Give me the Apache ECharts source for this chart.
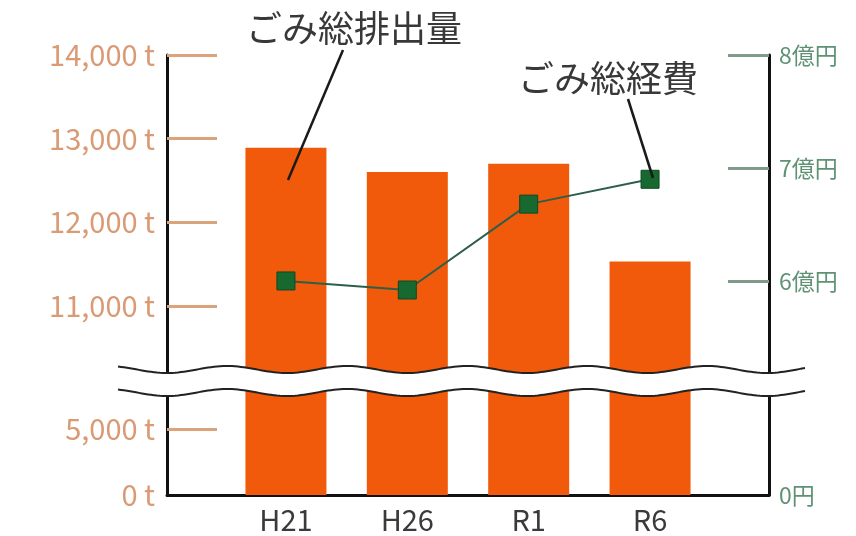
<!DOCTYPE html>
<html>
<head>
<meta charset="utf-8">
<script src="https://cdn.jsdelivr.net/npm/echarts@6/dist/echarts.min.js"></script>
<style>
  html, body { margin: 0; padding: 0; background: #fff; }
  #chart { width: 856px; height: 536px; }
</style>
</head>
<body>
<div id="chart"></div>
<script>
  // 年度
  const categories = ['H21', 'H26', 'R1', 'R6']
  // ごみ総排出量 (t)
  const wasteTotal = [12890, 12600, 12700, 11530]
  // ごみ総経費 (億円)
  const costTotal = [6.0, 5.92, 6.68, 6.9]
  // 目盛り
  const leftTicksUpper = [11000, 12000, 13000, 14000]
  const leftTicksLower = [0, 5000]
  const rightTicksUpper = [6, 7, 8]
  const rightTicksLower = [0]

  const FONT = '"Noto Sans CJK JP", "Noto Sans", sans-serif'
  const BAR_COLOR = '#f05a0a'
  const LINE_COLOR = '#2c5f4a'
  const POINT_COLOR = '#17692f'

  const chart = echarts.init(document.getElementById('chart'))

  const fmtTon = v => v.toLocaleString('en-US') + ' t'

  const leftAxisBase = {
    type: 'value',
    position: 'left',
    splitLine: { show: false },
    axisLine: { show: true, onZero: false, lineStyle: { color: '#111', width: 3 } },
    axisTick: { show: true, inside: true, length: 50, lineStyle: { color: '#d9a47c', width: 3 } },
    axisLabel: { color: '#d99a74', fontSize: 29, fontFamily: FONT, margin: 12, formatter: fmtTon }
  }
  const rightAxisBase = {
    type: 'value',
    position: 'right',
    splitLine: { show: false },
    axisLine: { show: true, onZero: false, lineStyle: { color: '#111', width: 3 } },
    axisTick: { show: true, inside: true, length: 41, lineStyle: { color: '#7f9c8a', width: 3 } },
    axisLabel: { color: '#5f9274', fontSize: 23, fontFamily: FONT, margin: 10 }
  }

  // 波線 (省略記号)
  function wave(c){
    const pts = []
    for(let x = 118; x <= 806; x += 3){
      pts.push([x, c + 3.5 * Math.sin(2 * Math.PI * (x - 137) / 120)])
    }
    return pts
  }
  const waveTop = wave(369.5)
  const waveBottom = wave(392.5)

  const option = {
    animation: false,
    backgroundColor: '#fff',
    grid: [
      { left: 167, right: 87, top: 55, height: 322 },
      { left: 167, right: 87, top: 388, height: 107 }
    ],
    xAxis: [
      { type: 'value', gridIndex: 0, min: -0.98, max: 3.98, show: false },
      {
        type: 'value', gridIndex: 1, min: -0.98, max: 3.98,
        splitLine: { show: false },
        axisLine: { show: true, onZero: false, lineStyle: { color: '#111', width: 3 } },
        axisTick: { show: false },
        axisLabel: {
          customValues: [0, 1, 2, 3],
          color: '#3a3a3a', fontSize: 29, fontFamily: FONT, margin: 10,
          formatter: v => categories[Math.round(v)]
        }
      }
    ],
    yAxis: [
      Object.assign({}, leftAxisBase, {
        gridIndex: 0, min: 10150, max: 14000,
        axisTick: Object.assign({}, leftAxisBase.axisTick, { customValues: leftTicksUpper }),
        axisLabel: Object.assign({}, leftAxisBase.axisLabel, { customValues: leftTicksUpper })
      }),
      Object.assign({}, rightAxisBase, {
        gridIndex: 0, min: 5.15, max: 8,
        axisTick: Object.assign({}, rightAxisBase.axisTick, { customValues: rightTicksUpper }),
        axisLabel: Object.assign({}, rightAxisBase.axisLabel, { customValues: rightTicksUpper, formatter: v => v + '億円' })
      }),
      Object.assign({}, leftAxisBase, {
        gridIndex: 1, min: 0, max: 8100,
        axisTick: Object.assign({}, leftAxisBase.axisTick, { customValues: [5000] }),
        axisLabel: Object.assign({}, leftAxisBase.axisLabel, { customValues: leftTicksLower })
      }),
      Object.assign({}, rightAxisBase, {
        gridIndex: 1, min: 0, max: 1,
        axisTick: { show: false },
        axisLabel: Object.assign({}, rightAxisBase.axisLabel, { customValues: rightTicksLower, formatter: v => v + '円' })
      })
    ],
    series: [
      {
        name: 'ごみ総排出量', type: 'bar', xAxisIndex: 0, yAxisIndex: 0,
        barWidth: 81, itemStyle: { color: BAR_COLOR },
        data: wasteTotal.map((v, i) => [i, v])
      },
      {
        name: 'ごみ総排出量', type: 'bar', xAxisIndex: 1, yAxisIndex: 2,
        barWidth: 81, itemStyle: { color: BAR_COLOR },
        data: wasteTotal.map((v, i) => [i, v])
      },
      {
        name: 'ごみ総経費', type: 'line', xAxisIndex: 0, yAxisIndex: 1,
        symbol: 'rect', symbolSize: 18, z: 5,
        lineStyle: { color: LINE_COLOR, width: 2 },
        itemStyle: { color: POINT_COLOR, borderColor: '#0e4a22', borderWidth: 1 },
        data: costTotal.map((v, i) => [i, v])
      }
    ],
    graphic: [
      {
        type: 'polygon', z: 100, silent: true,
        shape: { points: waveTop.concat(waveBottom.slice().reverse()) },
        style: { fill: '#fff' }
      },
      { type: 'polyline', z: 101, silent: true, shape: { points: waveTop }, style: { stroke: '#222', lineWidth: 2, fill: null } },
      { type: 'polyline', z: 101, silent: true, shape: { points: waveBottom }, style: { stroke: '#222', lineWidth: 2, fill: null } },
      {
        type: 'text', z: 110, left: 246, top: 10,
        style: { text: 'ごみ総排出量', fill: '#383838', font: '36px ' + FONT }
      },
      { type: 'line', z: 110, shape: { x1: 343, y1: 50, x2: 288, y2: 180 }, style: { stroke: '#1a1a1a', lineWidth: 2.5 } },
      {
        type: 'text', z: 110, left: 518, top: 60,
        style: { text: 'ごみ総経費', fill: '#383838', font: '36px ' + FONT }
      },
      { type: 'line', z: 110, shape: { x1: 628, y1: 99, x2: 653, y2: 178 }, style: { stroke: '#1a1a1a', lineWidth: 2.5 } }
    ]
  }

  chart.setOption(option)
</script>
</body>
</html>
